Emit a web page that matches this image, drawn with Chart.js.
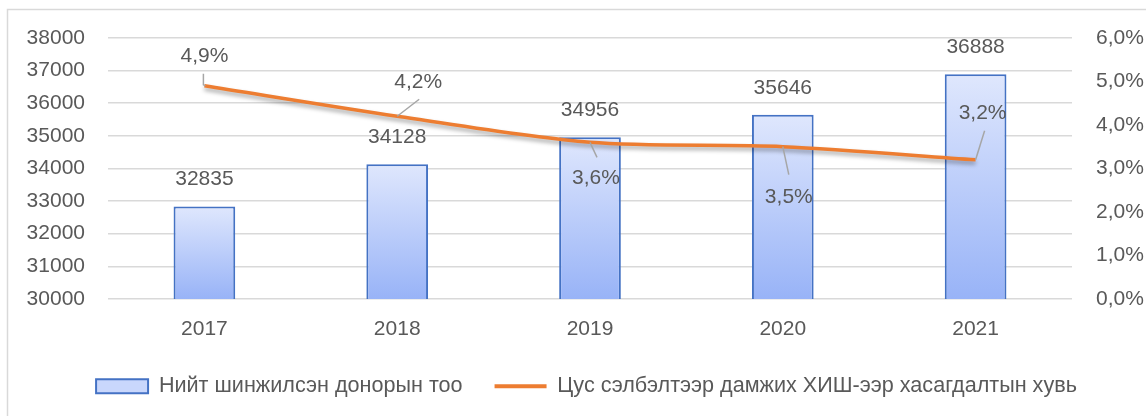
<!DOCTYPE html>
<html>
<head>
<meta charset="utf-8">
<script src="https://cdn.jsdelivr.net/npm/chart.js@4.4.0/dist/chart.umd.min.js"></script>
<style>
  html, body { margin: 0; padding: 0; background: #fff; }
  #wrap { width: 1146px; height: 416px; position: relative; }
</style>
</head>
<body>
<div id="wrap"><canvas id="chart" width="1146" height="416"></canvas></div>
<script>
const years = ['2017', '2018', '2019', '2020', '2021'];
const donorCounts = [32835, 34128, 34956, 35646, 36888];
const exclusionRates = [4.9, 4.2, 3.6, 3.5, 3.2];
const donorTicks = [30000, 31000, 32000, 33000, 34000, 35000, 36000, 37000, 38000];
const rateTicks = [0, 1, 2, 3, 4, 5, 6];
const donorLabel = 'Нийт шинжилсэн донорын тоо';
const rateLabel = 'Цус сэлбэлтээр дамжих ХИШ-ээр хасагдалтын хувь';

// where the percent labels sit relative to their point, and where the leader line ends
const rateTextOffsets = [[0, -30], [21, -34], [6, 36], [6, 50], [7, -47]];
const rateLeaderEnds = [[-1, -12], [22, -17], [7, 15], [6, 28], [9, -29]];

const textGray = '#595959';
const fontFamily = '"Liberation Sans", Arial, sans-serif';

const fmtPct = v => v.toFixed(1).replace('.', ',') + '%';

const frame = {
  id: 'frame',
  beforeDraw(chart) {
    const ctx = chart.ctx;
    ctx.save();
    ctx.strokeStyle = '#d9d9d9';
    ctx.lineWidth = 1.5;
    ctx.strokeRect(7.5, 9.5, 1300, 600);
    ctx.restore();
  }
};

const lineShadow = {
  id: 'lineShadow',
  beforeDatasetDraw(chart, args) {
    if (args.index !== 1) return;
    const ctx = chart.ctx;
    ctx.save();
    ctx.shadowColor = 'rgba(0,0,0,0.35)';
    ctx.shadowBlur = 4;
    ctx.shadowOffsetY = 3;
  },
  afterDatasetDraw(chart, args) {
    if (args.index !== 1) return;
    chart.ctx.restore();
  }
};

const valueLabels = {
  id: 'valueLabels',
  afterDatasetsDraw(chart) {
    const ctx = chart.ctx;
    ctx.save();
    ctx.font = '21px ' + fontFamily;
    ctx.textAlign = 'center';
    ctx.textBaseline = 'middle';

    const bars = chart.getDatasetMeta(0).data;
    bars.forEach((bar, i) => {
      ctx.fillStyle = textGray;
      ctx.fillText(String(donorCounts[i]), bar.x, bar.y - 27);
    });

    const points = chart.getDatasetMeta(1).data;
    points.forEach((pt, i) => {
      const [ex, ey] = rateLeaderEnds[i];
      ctx.strokeStyle = '#a6a6a6';
      ctx.lineWidth = 1.5;
      ctx.beginPath();
      if (i === 0) {
        ctx.moveTo(pt.x + ex, pt.y + ey);
        ctx.lineTo(pt.x - 1, pt.y - 1);
        ctx.lineTo(pt.x + 1, pt.y);
      } else {
        ctx.moveTo(pt.x, pt.y);
        ctx.lineTo(pt.x + ex, pt.y + ey);
      }
      ctx.stroke();
      const [tx, ty] = rateTextOffsets[i];
      ctx.fillStyle = textGray;
      ctx.fillText(fmtPct(exclusionRates[i]), pt.x + tx, pt.y + ty);
    });
    ctx.restore();
  }
};

function barGradient(context) {
  const chart = context.chart;
  const area = chart.chartArea;
  if (!area || context.type !== 'data') return '#c9d7fc';
  const top = chart.scales.y.getPixelForValue(context.raw);
  const g = chart.ctx.createLinearGradient(0, top, 0, area.bottom);
  g.addColorStop(0, '#dfe7fd');
  g.addColorStop(1, '#98b3f7');
  return g;
}

new Chart(document.getElementById('chart'), {
  type: 'bar',
  data: {
    labels: years,
    datasets: [
      {
        type: 'bar',
        label: donorLabel,
        data: donorCounts,
        yAxisID: 'y',
        backgroundColor: barGradient,
        borderColor: '#4472c4',
        borderWidth: 2,
        categoryPercentage: 1,
        barPercentage: 0.32,
        order: 1
      },
      {
        type: 'line',
        label: rateLabel,
        data: exclusionRates,
        yAxisID: 'y1',
        borderColor: '#ed7d31',
        backgroundColor: '#ed7d31',
        borderWidth: 3.5,
        pointRadius: 0,
        tension: 0.3,
        order: 0
      }
    ]
  },
  options: {
    responsive: false,
    animation: false,
    layout: { padding: { top: 38, left: 27, right: 0, bottom: 9 } },
    plugins: {
      tooltip: { enabled: false },
      legend: {
        position: 'bottom',
        labels: {
          usePointStyle: true,
          pointStyleWidth: 52,
          boxHeight: 14,
          padding: 32,
          color: textGray,
          font: { family: fontFamily, size: 21.6 },
          sort: (a, b) => a.datasetIndex - b.datasetIndex,
          generateLabels(chart) {
            const items = Chart.defaults.plugins.legend.labels.generateLabels(chart);
            items.forEach(item => {
              if (item.datasetIndex === 0) {
                item.pointStyle = 'rect';
                item.fillStyle = '#c9d7fc';
                item.strokeStyle = '#4472c4';
                item.lineWidth = 2;
              } else {
                item.pointStyle = 'line';
                item.strokeStyle = '#ed7d31';
                item.lineWidth = 4;
              }
            });
            return items;
          }
        }
      }
    },
    scales: {
      x: {
        grid: { display: false, drawTicks: false },
        border: { display: false },
        ticks: { color: textGray, font: { family: fontFamily, size: 21 }, padding: 18 },
        afterFit(scale) { scale.height = 44.5; }
      },
      y: {
        position: 'left',
        min: donorTicks[0],
        max: donorTicks[donorTicks.length - 1],
        afterBuildTicks(scale) { scale.ticks = donorTicks.map(v => ({ value: v })); },
        grid: { color: '#d9d9d9', lineWidth: 1.5, drawTicks: false },
        border: { display: false },
        ticks: {
          color: textGray,
          font: { family: fontFamily, size: 21 },
          padding: 23,
          callback: v => String(v)
        },
        afterFit(scale) { scale.width = 81; }
      },
      y1: {
        position: 'right',
        min: rateTicks[0],
        max: rateTicks[rateTicks.length - 1],
        afterBuildTicks(scale) { scale.ticks = rateTicks.map(v => ({ value: v })); },
        grid: { display: false, drawTicks: false },
        border: { display: false },
        ticks: {
          color: textGray,
          font: { family: fontFamily, size: 21 },
          padding: 24,
          callback: v => fmtPct(v)
        },
        afterFit(scale) { scale.width = 74; }
      }
    }
  },
  plugins: [frame, lineShadow, valueLabels]
});
</script>
</body>
</html>
